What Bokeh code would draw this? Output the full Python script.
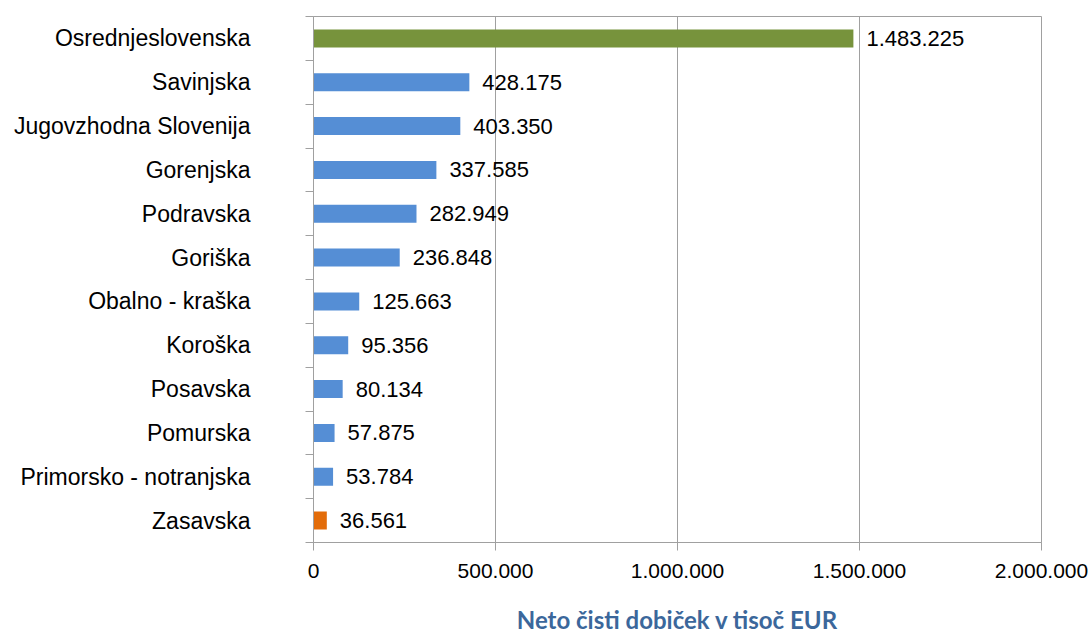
from bokeh.plotting import figure
from bokeh.models import FixedTicker, Range1d
from bokeh.core.properties import value
from bokeh.embed import file_html
from bokeh.resources import INLINE

regions = ["Osrednjeslovenska", "Savinjska", "Jugovzhodna Slovenija", "Gorenjska",
           "Podravska", "Goriška", "Obalno - kraška", "Koroška", "Posavska",
           "Pomurska", "Primorsko - notranjska", "Zasavska"]
values = [1483225, 428175, 403350, 337585, 282949, 236848, 125663, 95356, 80134,
          57875, 53784, 36561]
value_labels = ["1.483.225", "428.175", "403.350", "337.585", "282.949", "236.848",
                "125.663", "95.356", "80.134", "57.875", "53.784", "36.561"]
bar_colors = ["#77933C"] + ["#558ED5"] * 10 + ["#E36C09"]
x_ticks = [0, 500000, 1000000, 1500000, 2000000]
x_tick_labels = ["0", "500.000", "1.000.000", "1.500.000", "2.000.000"]
x_title = "Neto čisti dobiček v tisoč EUR"

n = len(regions)
ys = [n - i - 0.5 for i in range(n)]
boundaries = list(range(n + 1))

GREY = "#A0A0A0"
FONT = value("Liberation Sans")

p = figure(width=1089, height=637, x_range=Range1d(0, 2000000), y_range=Range1d(0, n),
           output_backend="svg", toolbar_location=None,
           min_border_left=313, min_border_right=48, min_border_top=16, min_border_bottom=95)

p.hbar(y=ys, left=0, right=values, height=0.41, fill_color=bar_colors, line_color=None)
p.text(x=values, y=ys, text=value_labels, x_offset=13, text_baseline="middle",
       text_align="left", text_font=FONT, text_font_size="22px", text_color="#000000")

p.outline_line_color = GREY
p.ygrid.visible = False
p.xgrid.ticker = FixedTicker(ticks=x_ticks)
p.xgrid.grid_line_color = GREY

xa = p.xaxis[0]
xa.ticker = FixedTicker(ticks=x_ticks, minor_ticks=[])
xa.major_label_overrides = {t: l for t, l in zip(x_ticks, x_tick_labels)}
xa.axis_line_color = GREY
xa.major_tick_line_color = GREY
xa.major_tick_out = 8
xa.major_tick_in = 0
xa.minor_tick_line_color = None
xa.major_label_standoff = 13
xa.major_label_text_font = "Liberation Sans"
xa.major_label_text_font_size = "21px"
xa.major_label_text_color = "#000000"
xa.axis_label = x_title
xa.axis_label_text_font = "Lato"
xa.axis_label_text_font_style = "bold"
xa.axis_label_text_font_size = "24px"
xa.axis_label_text_color = "#3B679B"
xa.axis_label_standoff = 24

ya = p.yaxis[0]
ya.ticker = FixedTicker(ticks=ys, minor_ticks=boundaries)
ya.major_label_overrides = {t: l for t, l in zip(ys, regions)}
ya.axis_line_color = GREY
ya.major_tick_line_color = None
ya.major_tick_out = 0
ya.major_tick_in = 0
ya.minor_tick_line_color = GREY
ya.minor_tick_out = 8
ya.minor_tick_in = 0
ya.major_label_standoff = 55
ya.major_label_text_font = "Liberation Sans"
ya.major_label_text_font_size = "23px"
ya.major_label_text_color = "#000000"

open("out.html", "w").write(file_html(p, INLINE))
